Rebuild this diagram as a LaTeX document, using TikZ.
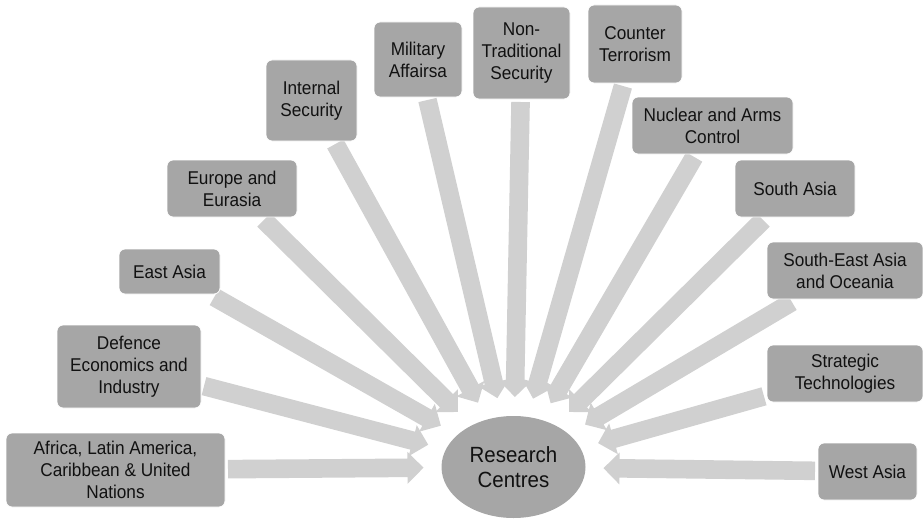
\documentclass[tikz,border=0pt]{standalone}
\usepackage{fontspec}
\setmainfont{Liberation Sans}[FakeStretch=0.93]
\usetikzlibrary{calc,shapes.geometric,backgrounds}
\definecolor{boxgray}{HTML}{A6A6A6}
\definecolor{arrgray}{HTML}{D0D0D0}
\definecolor{txt}{HTML}{111111}
\newcommand\fatarrow[2]{%
  \path (#1) -- (tipell) coordinate[pos=0] (#2s) coordinate[pos=1] (#2t);
  \coordinate (#2h) at ($(#2t)!16pt!(#2s)$);
  \fill[arrgray] ($(#2s)!9.3pt!90:(#2t)$) -- ($(#2h)!9.3pt!-90:(#2s)$) -- ($(#2h)!16pt!-90:(#2s)$) -- (#2t)
    -- ($(#2h)!16pt!90:(#2s)$) -- ($(#2h)!9.3pt!90:(#2s)$) -- ($(#2s)!9.3pt!-90:(#2t)$) -- cycle;}
\begin{document}
\begin{tikzpicture}[x=1pt,y=-1pt,
  cbox/.style={rectangle, rounded corners=6pt, fill=boxgray, draw=white, line width=0.8pt,
    text=txt, align=center, inner sep=0pt, outer sep=3pt,
    font=\fontsize{18.5}{22}\selectfont}]
\useasboundingbox (0,0) rectangle (923,519);
\node[ellipse, minimum width=180pt, minimum height=140pt, inner sep=0pt, outer sep=0pt] (tipell) at (513.5,467) {};
\node[ellipse, fill=boxgray, minimum width=144pt, minimum height=102pt, inner sep=0pt, text=txt, align=center,
  font=\fontsize{22}{25}\selectfont] (rc) at (513.5,467) {Research\\Centres};
\node[cbox, minimum width=219pt, minimum height=74pt] (b1) at (115.5,470) {Africa, Latin America,\\Caribbean \& United\\Nations};
\node[cbox, minimum width=144pt, minimum height=83pt] (b2) at (129,366.5) {Defence\\Economics and\\Industry};
\node[cbox, minimum width=101pt, minimum height=45pt] (b3) at (169.5,271.5) {East Asia};
\node[cbox, minimum width=130pt, minimum height=57pt] (b4) at (232,188.5) {Europe and\\Eurasia};
\node[cbox, minimum width=91pt, minimum height=81pt] (b5) at (311.5,100.5) {Internal\\Security};
\node[cbox, minimum width=88pt, minimum height=75pt] (b6) at (418,59.5) {Military\\Affairsa};
\node[cbox, minimum width=97pt, minimum height=92pt] (b7) at (521.5,53) {Non-\\Traditional\\Security};
\node[cbox, minimum width=94pt, minimum height=78pt] (b8) at (635,44) {Counter\\Terrorism};
\node[cbox, minimum width=161pt, minimum height=57pt] (b9) at (712.5,125.5) {Nuclear and Arms\\Control};
\node[cbox, minimum width=120pt, minimum height=57pt] (b10) at (795,188.5) {South Asia};
\node[cbox, minimum width=156pt, minimum height=57pt] (b11) at (845,270.5) {South-East Asia\\and Oceania};
\node[cbox, minimum width=156pt, minimum height=57pt] (b12) at (845,373.5) {Strategic\\Technologies};
\node[cbox, minimum width=99pt, minimum height=57pt] (b13) at (867.5,471.5) {West Asia};
\begin{pgfonlayer}{background}
\foreach \i in {1,...,13} {\fatarrow{b\i}{a\i}}
\end{pgfonlayer}
\end{tikzpicture}
\end{document}
